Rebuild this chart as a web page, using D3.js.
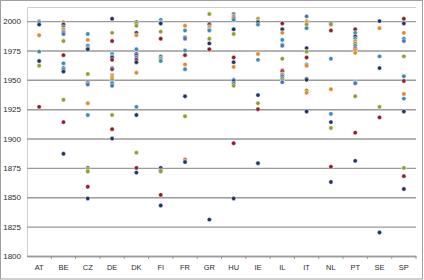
<!DOCTYPE html>
<html>
<head>
<meta charset="utf-8">
<script src="https://cdn.jsdelivr.net/npm/d3@7"></script>
<style>
  html, body { margin: 0; padding: 0; background: #fff; }
  svg { display: block; font-family: "Liberation Sans", Arial, sans-serif; }
</style>
</head>
<body>
<div id="chart"></div>
<script>
// countries along the x axis
const categories = ["AT","BE","CZ","DE","DK","FI","FR","GR","HU","IE","IL","IT","NL","PT","SE","SP"];

// years per country
const years = [
  [2000,1999,1997,1988,1974,1966,1962,1927],
  [1999,1997,1995,1993,1991,1990,1989,1983,1971,1964,1960,1959,1957,1933,1914,1887],
  [1989,1984,1979,1977,1976,1955,1948,1947,1946,1930,1920,1875,1874,1872,1859,1849],
  [2002,1990,1983,1972,1970,1969,1967,1960,1959,1954,1952,1950,1948,1947,1945,1920,1908,1900],
  [1999,1998,1996,1990,1988,1976,1972,1971,1969,1967,1965,1956,1927,1920,1888,1875,1871],
  [2001,1999,1998,1991,1985,1970,1968,1966,1875,1873,1872,1852,1843],
  [1996,1992,1986,1985,1975,1971,1963,1959,1936,1919,1882,1881,1880],
  [2006,1998,1997,1995,1993,1992,1985,1981,1976,1831],
  [2006,2004,2002,2001,1993,1989,1969,1965,1961,1950,1949,1947,1945,1896,1849],
  [2002,2000,1999,1997,1972,1967,1937,1930,1925,1879],
  [1998,1993,1990,1984,1980,1979,1968,1958,1957,1955,1954,1953,1951,1950,1948],
  [2004,2000,1999,1997,1994,1977,1974,1969,1963,1962,1951,1950,1941,1939,1923],
  [1998,1997,1992,1968,1942,1921,1914,1909,1876,1863],
  [1993,1990,1987,1985,1983,1981,1979,1977,1976,1975,1973,1948,1947,1936,1905,1881],
  [2000,1994,1970,1960,1927,1918,1820],
  [2002,1998,1990,1985,1983,1970,1953,1949,1938,1934,1923,1875,1868,1857]
];

// which series each of those points belongs to
const series = [
  "g t n o t n g r",
  "o n b o t p b g r t n t n g r n",
  "t o t b n g r t b o t n g g r n",
  "n g r t t n r r p o o g t t b g r n",
  "n g g n o t n p t r n o t n g r n",
  "t t n g r t g t n n g r n",
  "o t n b t r o t n g r o n",
  "g r p o g t g n r n",
  "t o r t n g r n o t n t g r n",
  "g o n t o t n g r n",
  "r n o t t b g r r o p t n g b",
  "b g o g t n g r t o t n g o n",
  "n g r t o t n g r n",
  "r t n t o g t p r o o t b g r n",
  "n o t n g r n",
  "r n o t b g t r o t n g r n"
].map(s => s.split(" "));

const seriesKeys = ["n","r","g","t","o","b","p"];

const yTicks = [1800,1825,1850,1875,1900,1925,1950,1975,2000];

const W = 424, H = 280;
const margin = {left: 27, right: 8, top: 7, bottom: 24};

const svg = d3.select("#chart").append("svg")
  .attr("width", W).attr("height", H);

svg.append("rect")
  .attr("x", 0.5).attr("y", 0.5)
  .attr("width", W - 2).attr("height", H - 1.5)
  .attr("fill", "#fff").attr("stroke", "#a0a0a0");

const x = d3.scaleBand()
  .domain(categories)
  .range([margin.left, W - margin.right]);

const y = d3.scaleLinear()
  .domain([1800, 2012])
  .range([H - margin.bottom, margin.top]);

const color = d3.scaleOrdinal()
  .domain(seriesKeys)
  .range(["#1f3463","#8a1f2c","#949c30","#3a8ab2","#e2882a","#4d72ad","#5c4478"]);

// gridlines + y labels
const yAxis = d3.axisLeft(y).tickValues(yTicks).tickFormat(d3.format("d"))
  .tickSize(-(W - margin.left - margin.right)).tickPadding(6);
const gy = svg.append("g")
  .attr("transform", `translate(${margin.left},0)`)
  .call(yAxis);
gy.select(".domain").attr("stroke", "#d0d0d0");
gy.selectAll(".tick line").attr("stroke", "#9a9a9a").attr("stroke-width", 1.4);
gy.selectAll(".tick text").attr("font-size", 8).attr("fill", "#2b2b2b");

// x axis
const xAxis = d3.axisBottom(x).tickSize(0).tickPadding(9);
const gx = svg.append("g")
  .attr("transform", `translate(0,${H - margin.bottom})`)
  .call(xAxis);
gx.select(".domain").attr("stroke", "#9a9a9a").attr("stroke-width", 1.4);
gx.selectAll(".tick text").attr("font-size", 7.5).attr("fill", "#2b2b2b");

// tick marks between categories
gx.selectAll(".sep")
  .data(categories)
  .enter().append("line")
  .attr("x1", d => x(d) + x.bandwidth())
  .attr("x2", d => x(d) + x.bandwidth())
  .attr("y1", 0).attr("y2", 3)
  .attr("stroke", "#9a9a9a");

// dots
const points = [];
categories.forEach((c, i) => {
  years[i].forEach((v, j) => points.push({cat: c, year: v, s: series[i][j]}));
});

svg.append("g")
  .selectAll("circle")
  .data(points)
  .enter().append("circle")
  .attr("cx", d => x(d.cat) + x.bandwidth() / 2)
  .attr("cy", d => y(d.year))
  .attr("r", 2.2)
  .attr("fill", d => color(d.s))
  .attr("stroke", "#fff")
  .attr("stroke-width", 0.5);
</script>
</body>
</html>
